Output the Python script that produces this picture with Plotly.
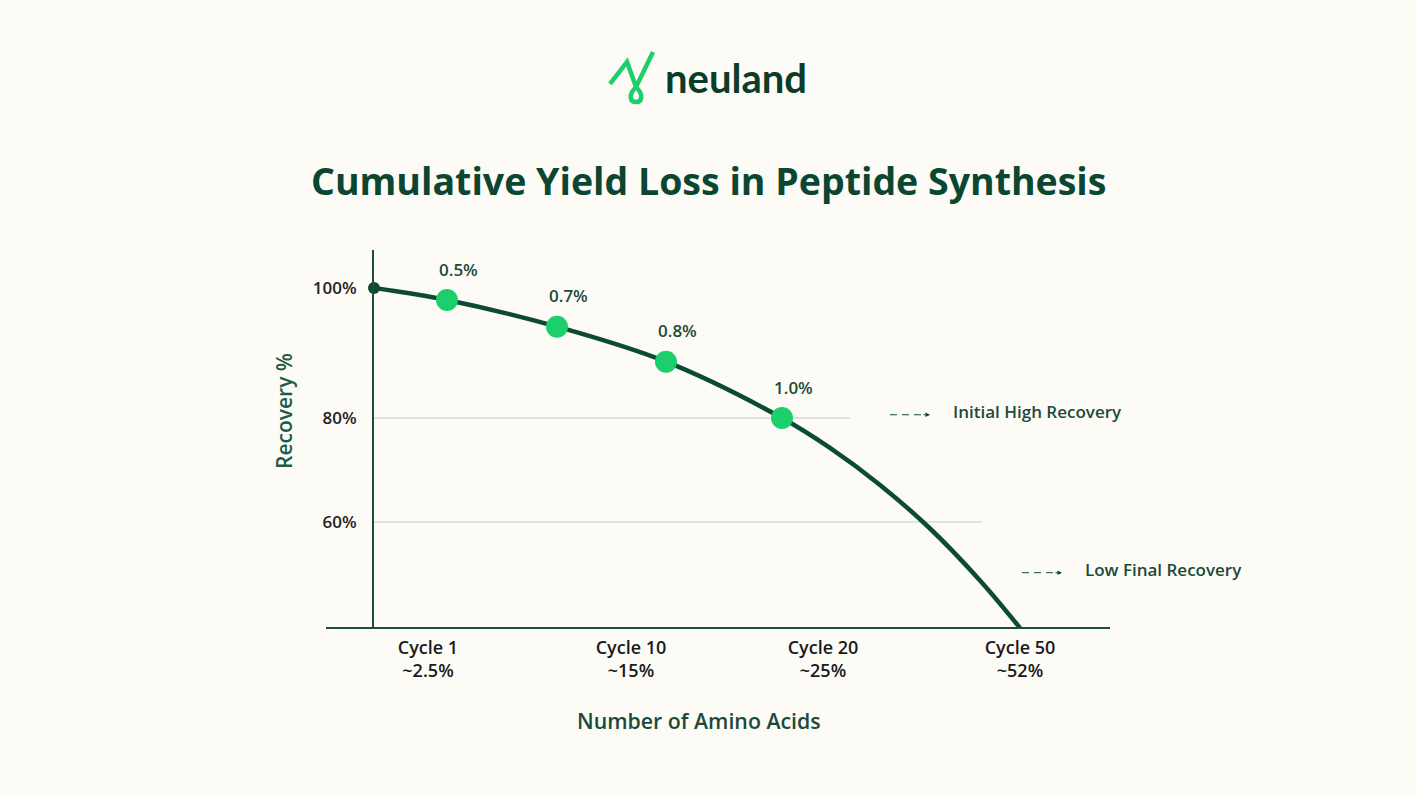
import plotly.graph_objects as go

# --- data (x in chart position units, y in % recovery) ---
curve_x = [0, 73, 183, 292, 408, 456, 506, 556, 606, 646]
curve_y = [100, 98.15, 94.05, 88.66, 80.0, 75.4, 69.7, 63.0, 55.0, 47.7]

step_x = [73, 183, 292, 408]
step_y = [98.15, 94.05, 88.66, 80.0]
step_loss = ['0.5%', '0.7%', '0.8%', '1.0%']

start_x = [0]
start_y = [100]

# reference axis is not to scale, so the 60% line sits higher than linear
y_tick_pos = [100, 80, 64]
y_tick_text = ['100%', '80%', '60%']

x_tick_pos = [54, 257, 449, 646]
x_tick_text = ['Cycle 1<br>~2.5%', 'Cycle 10<br>~15%', 'Cycle 20<br>~25%', 'Cycle 50<br>~52%']

guide_y = [80, 64]
guide_end = [476, 608]

callouts = ['Initial High Recovery', 'Low Final Recovery']
callout_x = [516, 648]
callout_y = [80.5, 56.2]

BG = '#fcfbf6'
DARK = '#0d4a33'
AXIS = '#1f4d3d'
GREEN = '#1ccf6b'
FONT = 'Open Sans, Noto Sans, sans-serif'

W, H = 1416, 796
L, R, T, B = 374, 306, 250, 168
PW, PH = W - L - R, H - T - B


def px(x):
    return (x - L) / PW


def py(y):
    return (H - B - y) / PH


fig = go.Figure()

fig.add_trace(go.Scatter(
    x=curve_x, y=curve_y, mode='lines',
    line=dict(color=DARK, width=4.5, shape='spline', smoothing=1.0),
    hoverinfo='skip', showlegend=False, cliponaxis=False
))
fig.add_trace(go.Scatter(
    x=step_x, y=step_y, mode='markers',
    marker=dict(color=GREEN, size=22, line=dict(width=0)),
    showlegend=False, cliponaxis=False
))
fig.add_trace(go.Scatter(
    x=start_x, y=start_y, mode='markers',
    marker=dict(color=DARK, size=12),
    showlegend=False, cliponaxis=False
))

shapes = []
# light guide lines
for gy, ge in zip(guide_y, guide_end):
    shapes.append(dict(type='line', xref='x', yref='y', x0=0, x1=ge, y0=gy, y1=gy,
                       line=dict(color='#c6ccc6', width=1), layer='below'))
# x axis line running a little left of the y axis
shapes.append(dict(type='line', xref='paper', yref='paper', x0=px(326), x1=px(1110), y0=0, y1=0,
                   line=dict(color=AXIS, width=2)))
# dashed lead-ins for the callouts
for cx, cy in zip(callout_x, callout_y):
    shapes.append(dict(type='line', xref='x', yref='y', x0=cx, x1=cx + 33, y0=cy, y1=cy,
                       line=dict(color=DARK, width=1, dash='7px,5px')))

# logo mark
icon = [(610, 84), (627, 62), (636, 87)]
path = 'M ' + ' L '.join(f'{px(a):.4f},{py(b):.4f}' for a, b in icon)
path += (f' C {px(628):.4f},{py(95):.4f} {px(630):.4f},{py(102):.4f} {px(636):.4f},{py(102):.4f}'
         f' C {px(642):.4f},{py(102):.4f} {px(644):.4f},{py(95):.4f} {px(636):.4f},{py(87):.4f}'
         f' L {px(653):.4f},{py(52):.4f}')
shapes.append(dict(type='path', xref='paper', yref='paper', path=path,
                   line=dict(color=GREEN, width=4.5)))

annotations = []
for x, y, t in zip(step_x, step_y, step_loss):
    annotations.append(dict(x=x, y=y, text=t, showarrow=False, xshift=11, yshift=31,
                            font=dict(family=FONT, size=17, color='#1d4a3c', weight=600)))
for cx, cy, t in zip(callout_x, callout_y, callouts):
    annotations.append(dict(x=cx + 40, y=cy, ax=-8, ay=0, axref='pixel', ayref='pixel',
                            text='', showarrow=True, arrowhead=2, arrowsize=0.9,
                            arrowwidth=1, arrowcolor=DARK))
    annotations.append(dict(x=cx + 61, y=cy, yshift=3, text=t, showarrow=False, xanchor='left',
                            font=dict(family=FONT, size=17, color='#1b4a3a', weight=600)))

annotations += [
    dict(xref='paper', yref='paper', x=px(708), y=py(180), xanchor='center', yanchor='middle',
         text='<b>Cumulative Yield Loss in Peptide Synthesis</b>',
         showarrow=False, font=dict(family=FONT, size=37.5, color='#0b4631')),
    dict(xref='paper', yref='paper', x=px(663), y=py(78), xanchor='left', yanchor='middle',
         text='<b>neuland</b>',
         showarrow=False, font=dict(family='Lato, Inter, sans-serif', size=40, color='#0c3b2a')),
    dict(xref='paper', yref='paper', x=px(699), y=py(720), xanchor='center', yanchor='middle',
         text='Number of Amino Acids',
         showarrow=False, font=dict(family=FONT, size=21.3, color='#1b4a3a', weight=600)),
    dict(xref='paper', yref='paper', x=px(284), y=py(411), xanchor='center', yanchor='middle',
         text='Recovery %', textangle=-90,
         showarrow=False, font=dict(family=FONT, size=21, color='#1d5c47', weight=600)),
]

fig.update_layout(
    width=W, height=H,
    margin=dict(l=L, r=R, t=T, b=B),
    paper_bgcolor=BG, plot_bgcolor=BG,
    showlegend=False,
    xaxis=dict(range=[0, PW], tickvals=x_tick_pos, ticktext=x_tick_text,
               showgrid=False, zeroline=False, showline=False, ticks='',
               ticklabelstandoff=7,
               tickfont=dict(family=FONT, size=18, color='#1a1a1a', weight=600)),
    yaxis=dict(range=[100 - (H - B - 288) / 6.5, 100 + (288 - T) / 6.5],
               tickvals=y_tick_pos, ticktext=y_tick_text,
               showgrid=False, zeroline=False, showline=True, linecolor=AXIS, linewidth=2,
               ticks='', ticklabelstandoff=12,
               tickfont=dict(family=FONT, size=17, color='#1f1f1f', weight=600)),
    shapes=shapes,
    annotations=annotations,
)

fig.write_html('out.html', config={'displayModeBar': False}, post_script=(
    "document.body.style.margin='0';"
    "document.body.style.background='%s';"
    "document.body.style.overflow='hidden';" % BG
))
